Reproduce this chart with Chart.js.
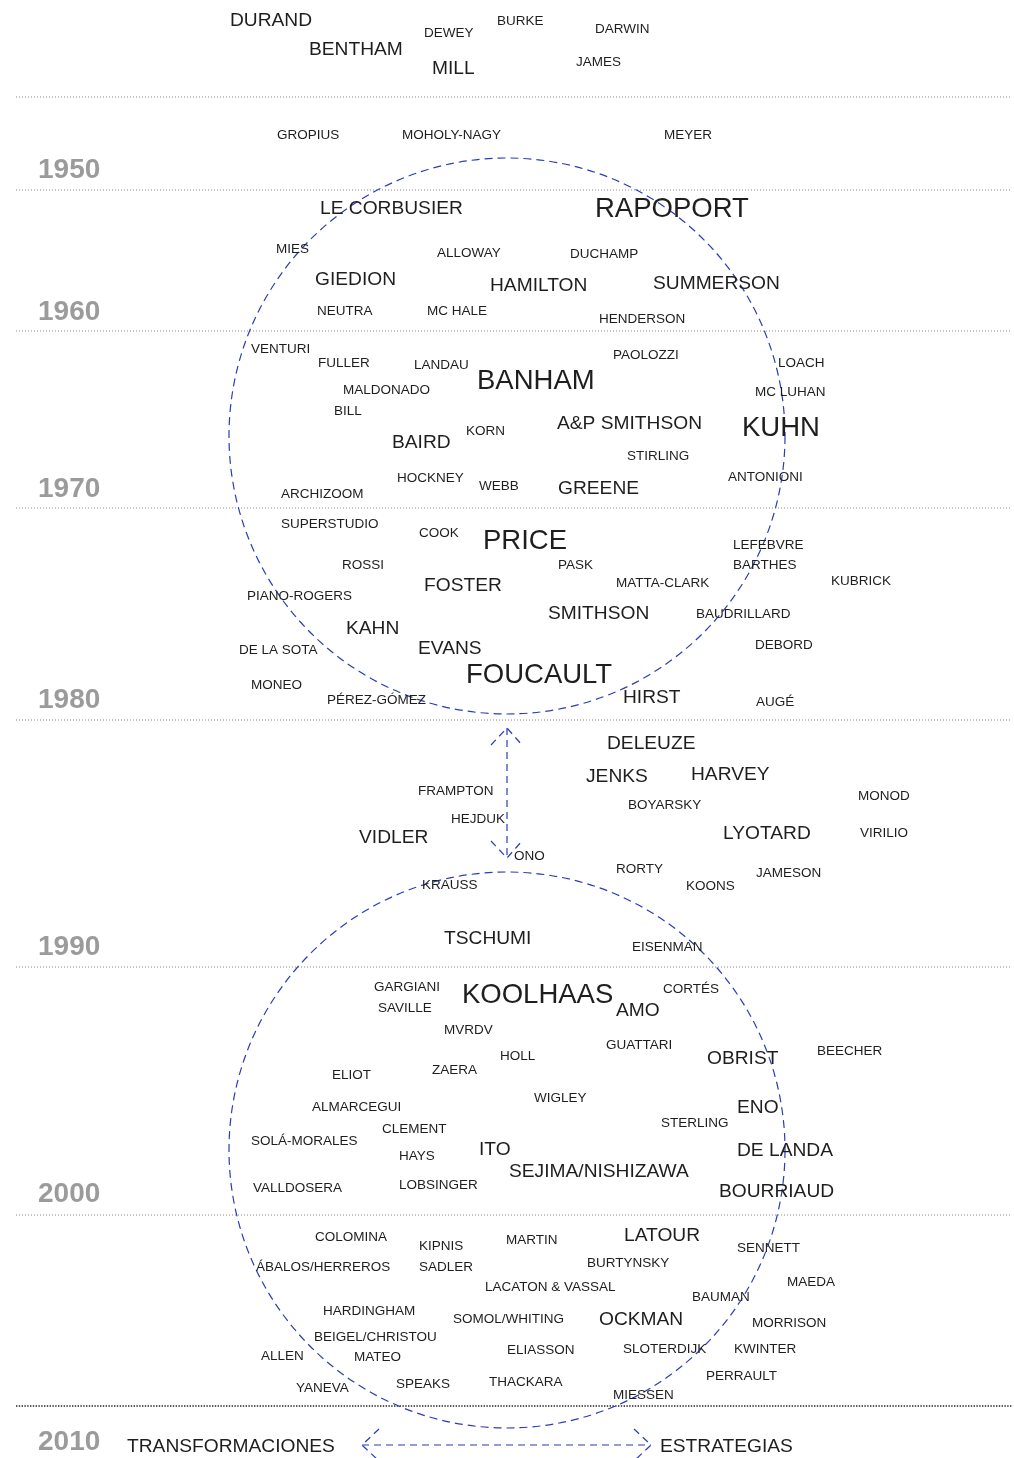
<!DOCTYPE html>
<html>
<head>
<meta charset="utf-8">
<script src="https://cdn.jsdelivr.net/npm/chart.js@4.4.1/dist/chart.umd.min.js"></script>
<style>
html, body { margin: 0; padding: 0; background: #fff; }
canvas { display: block; }
</style>
</head>
<body>
<canvas id="mapa" width="1014" height="1458"></canvas>
<script>
// nombres, posición horizontal, posición en la línea de tiempo, peso (1 pequeño, 2 medio, 3 grande)
const names = [
  'DURAND','BENTHAM','DEWEY','MILL','BURKE','DARWIN','JAMES',
  'GROPIUS','MOHOLY-NAGY','MEYER',
  'LE CORBUSIER','RAPOPORT','MIES','ALLOWAY','DUCHAMP','GIEDION','HAMILTON','SUMMERSON','NEUTRA','MC HALE','HENDERSON',
  'VENTURI','FULLER','LANDAU','BANHAM','PAOLOZZI','LOACH','MALDONADO','MC LUHAN','BILL','A&P SMITHSON','KUHN','KORN','BAIRD','STIRLING','HOCKNEY','ANTONIONI','WEBB','GREENE','ARCHIZOOM',
  'SUPERSTUDIO','COOK','PRICE','LEFEBVRE','ROSSI','PASK','BARTHES','KUBRICK','MATTA-CLARK','FOSTER','PIANO-ROGERS','SMITHSON','BAUDRILLARD','KAHN','DEBORD','EVANS','DE LA SOTA','FOUCAULT','MONEO','HIRST','PÉREZ-GÓMEZ','AUGÉ',
  'DELEUZE','HARVEY','JENKS','FRAMPTON','MONOD','BOYARSKY','HEJDUK','LYOTARD','VIRILIO','VIDLER','ONO','RORTY','JAMESON','KRAUSS','KOONS','TSCHUMI','EISENMAN',
  'GARGIANI','CORTÉS','KOOLHAAS','SAVILLE','AMO','MVRDV','GUATTARI','BEECHER','HOLL','OBRIST','ZAERA','ELIOT','WIGLEY','ALMARCEGUI','ENO','STERLING','CLEMENT','SOLÁ-MORALES','ITO','DE LANDA','HAYS','SEJIMA/NISHIZAWA','LOBSINGER','VALLDOSERA','BOURRIAUD',
  'LATOUR','COLOMINA','MARTIN','KIPNIS','SENNETT','BURTYNSKY','ÁBALOS/HERREROS','SADLER','MAEDA','LACATON & VASSAL','BAUMAN','HARDINGHAM','SOMOL/WHITING','OCKMAN','MORRISON','BEIGEL/CHRISTOU','SLOTERDIJK','KWINTER','ELIASSON','ALLEN','MATEO','PERRAULT','THACKARA','SPEAKS','YANEVA','MIESSEN',
  'TRANSFORMACIONES','ESTRATEGIAS'
];
const posX = [
  230,309,424,432,497,595,576,
  277,402,664,
  320,595,276,437,570,315,490,653,317,427,599,
  251,318,414,477,613,778,343,755,334,557,742,466,392,627,397,728,479,558,281,
  281,419,483,733,342,558,733,831,616,424,247,548,696,346,755,418,239,466,251,623,327,756,
  607,691,586,418,858,628,451,723,860,359,514,616,756,422,686,444,632,
  374,663,462,378,616,444,606,817,500,707,432,332,534,312,737,661,382,251,479,737,399,509,399,253,719,
  624,315,506,419,737,587,256,419,787,485,692,323,453,599,752,314,623,734,507,261,354,706,489,396,296,613,
  127,660
];
const posY = [
  19,48,32,67,20,28,61,
  134,134,134,
  207,207,248,252,253,278,284,282,310,310,318,
  348,362,364,379,354,362,389,391,410,422,426,430,441,455,477,476,485,487,493,
  523,532,539,544,564,564,564,580,582,584,595,612,613,627,644,647,649,673,684,696,699,701,
  742,773,775,790,795,804,818,832,832,836,855,868,872,884,885,937,946,
  986,988,993,1007,1009,1029,1044,1050,1055,1057,1069,1074,1097,1106,1106,1122,1128,1140,1148,1149,1155,1170,1184,1187,1190,
  1234,1236,1239,1245,1247,1262,1266,1266,1281,1286,1296,1310,1318,1318,1322,1336,1348,1348,1349,1355,1356,1375,1381,1383,1387,1394,
  1445,1445
];
const weight = [
  2,2,1,2,1,1,1,
  1,1,1,
  2,3,1,1,1,2,2,2,1,1,1,
  1,1,1,3,1,1,1,1,1,2,3,1,2,1,1,1,1,2,1,
  1,1,3,1,1,1,1,1,1,2,1,2,1,2,1,2,1,3,1,2,1,1,
  2,2,2,1,1,1,1,2,1,2,1,1,1,1,1,2,1,
  1,1,3,1,2,1,1,1,1,2,1,1,1,1,2,1,1,1,2,2,1,2,1,1,2,
  2,1,1,1,1,1,1,1,1,1,1,1,1,2,1,1,1,1,1,1,1,1,1,1,1,1,
  2,2
];

// décadas
const decadeLabels = ['1950','1960','1970','1980','1990','2000','2010'];
const decadeLabelY = [168,310,487,698,945,1192,1440];
const decadeLines = [97,190,331,508,720,967,1215,1406];
const lineStartX = 16, lineEndX = 1012;

// círculos de los dos periodos
const circleX = [507,507];
const circleY = [436,1150];
const circleR = [278,278];

// flechas: [inicio, fin] y puntas
const arrowV = [{x:507,y:728},{x:507,y:858}];
const arrowH = [{x:362,y:1445},{x:651,y:1445}];
const headsV = [
  [{x:491,y:745},{x:507,y:728},{x:522,y:745}],
  [{x:491,y:841},{x:507,y:858},{x:522,y:841}]
];
const headsH = [
  [{x:379,y:1429},{x:362,y:1445},{x:379,y:1461}],
  [{x:634,y:1429},{x:651,y:1445},{x:634,y:1461}]
];

const fontSizes = {1: 13.5, 2: 19.2, 3: 27.5};
const blue = '#2a3db5';

const lineSets = decadeLines.map((v, i) => ({
  type: 'line',
  data: [{x: lineStartX, y: v}, {x: lineEndX, y: v}],
  borderColor: i === decadeLines.length - 1 ? '#222' : '#8a8a8a',
  borderWidth: i === decadeLines.length - 1 ? 1.4 : 1,
  borderDash: i === decadeLines.length - 1 ? [1.4, 1.4] : [1, 2],
  pointRadius: 0,
  fill: false
}));

const arrowSets = [arrowV, arrowH].concat(headsV, headsH).map(d => ({
  type: 'line',
  data: d,
  borderColor: blue,
  borderWidth: 1.2,
  borderDash: [7, 5],
  pointRadius: 0,
  fill: false,
  tension: 0
}));

const textPlugin = {
  id: 'textos',
  afterDatasetsDraw(chart) {
    const ctx = chart.ctx;
    const xs = chart.scales.x, ys = chart.scales.y;
    ctx.save();
    // círculos
    ctx.strokeStyle = blue;
    ctx.lineWidth = 1.2;
    ctx.setLineDash([8, 5]);
    for (let i = 0; i < circleX.length; i++) {
      const cx = xs.getPixelForValue(circleX[i]);
      const cy = ys.getPixelForValue(circleY[i]);
      const r = xs.getPixelForValue(circleX[i] + circleR[i]) - cx;
      ctx.beginPath();
      ctx.arc(cx, cy, r, 0, Math.PI * 2);
      ctx.stroke();
    }
    ctx.setLineDash([]);
    // nombres (centro de mayúsculas en la posición)
    const meta = chart.getDatasetMeta(0);
    ctx.fillStyle = '#1e1e1e';
    ctx.textAlign = 'left';
    ctx.textBaseline = 'alphabetic';
    meta.data.forEach((pt, i) => {
      const fs = fontSizes[weight[i]];
      ctx.font = fs + 'px "Liberation Sans", Arial, sans-serif';
      ctx.fillText(names[i], pt.x, pt.y + fs * 0.358);
    });
    // años
    ctx.fillStyle = '#9b9b9b';
    ctx.font = 'bold 28px "Liberation Sans", Arial, sans-serif';
    decadeLabels.forEach((lab, i) => {
      ctx.fillText(lab, xs.getPixelForValue(38), ys.getPixelForValue(decadeLabelY[i]) + 28 * 0.358);
    });
    ctx.restore();
  }
};

new Chart(document.getElementById('mapa'), {
  type: 'scatter',
  data: {
    datasets: [{
      data: names.map((n, i) => ({x: posX[i], y: posY[i]})),
      pointRadius: 0,
      pointHoverRadius: 0
    }].concat(lineSets, arrowSets)
  },
  options: {
    responsive: false,
    animation: false,
    devicePixelRatio: 1,
    layout: { padding: 0 },
    events: [],
    plugins: { legend: { display: false }, tooltip: { enabled: false } },
    scales: {
      x: { type: 'linear', min: 0, max: 1014, display: false },
      y: { type: 'linear', min: 0, max: 1458, reverse: true, display: false }
    }
  },
  plugins: [textPlugin]
});
</script>
</body>
</html>
